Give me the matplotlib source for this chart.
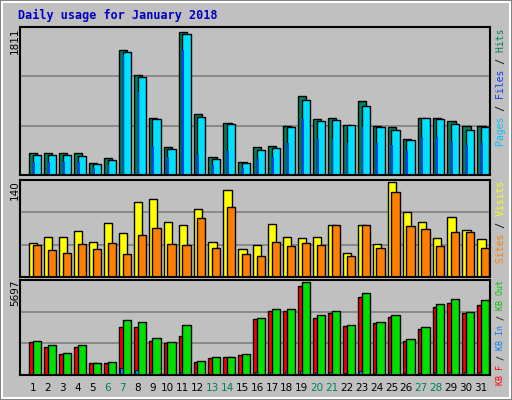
import matplotlib.pyplot as plt
from matplotlib.patches import Rectangle

days = list(range(1, 32))
weekend = [6, 7, 13, 14, 20, 21, 27, 28]

hits = [269, 269, 269, 269, 147, 208, 1554, 1248, 710, 355, 1787, 759, 220, 649, 159, 355,
        367, 612, 991, 698, 710, 624, 918, 612, 600, 453, 710, 710, 673, 612, 612]
files = [245, 245, 245, 233, 135, 184, 1530, 1224, 698, 330, 1762, 722, 196, 636, 147, 306,
         343, 600, 942, 673, 685, 624, 857, 600, 563, 441, 710, 698, 636, 563, 600]
pages = [160, 160, 160, 160, 90, 120, 1500, 1030, 355, 230, 1560, 245, 120, 300, 90, 200,
         230, 400, 700, 450, 450, 400, 600, 400, 380, 300, 480, 480, 430, 380, 400]
visits = [49, 58, 58, 66, 51, 78, 63, 108, 113, 79, 75, 98, 51, 126, 40, 46,
          76, 58, 56, 58, 75, 35, 75, 48, 137, 94, 79, 56, 87, 68, 55]
sites = [46, 39, 35, 48, 40, 49, 33, 61, 71, 48, 46, 85, 42, 101, 33, 30,
         51, 45, 49, 46, 75, 30, 75, 42, 123, 74, 69, 45, 65, 65, 42]
kb_f = [1919, 1619, 1199, 1619, 720, 720, 2759, 2759, 1979, 1859, 2279, 780, 960, 1019, 1139, 3238,
        3718, 3718, 5157, 3298, 3598, 2819, 4498, 2998, 3358, 1979, 2639, 3958, 4198, 3598, 4078]
kb_out = [1979, 1739, 1259, 1739, 720, 780, 3178, 3058, 2159, 1919, 2879, 840, 1019, 1019, 1199, 3298,
          3838, 3838, 5397, 3478, 3718, 2879, 4738, 3058, 3478, 2099, 2759, 4138, 4378, 3658, 4318]
kb_in = [80, 70, 50, 70, 30, 30, 400, 300, 150, 80, 200, 30, 40, 40, 50, 150,
         180, 180, 250, 160, 170, 130, 220, 140, 160, 90, 120, 190, 200, 170, 200]

W, H = 512, 400
fig = plt.figure(figsize=(W / 100, H / 100), dpi=100, facecolor='#c0c0c0')

# bevel frame
fig.patches.append(Rectangle((0, 0), 1, 1, transform=fig.transFigure, fill=False,
                             edgecolor='#808080', lw=3))
fig.patches.append(Rectangle((2 / W, 2 / H), 1 - 4 / W, 1 - 4 / H, transform=fig.transFigure,
                             fill=False, edgecolor='white', lw=1.5))

def make_ax(top, bottom, ymax):
    ax = fig.add_axes([20 / W, (H - bottom) / H, 470 / W, (bottom - top) / H])
    ax.set_facecolor('#c0c0c0')
    ax.set_xlim(0.13, 31.6)
    ax.set_ylim(0, ymax * 1.02)
    for f in (1 / 3, 2 / 3):
        ax.axhline(ymax * f * 1.02, color='#808080', lw=1.2, zorder=0)
    ax.set_xticks([])
    ax.set_yticks([])
    for s in ax.spines.values():
        s.set_linewidth(1.5)
    return ax

mono = 'DejaVu Sans Mono'

def side_legend(top, parts, size):
    # same-length strings, each showing only its own part, anchored at the end
    full = ''.join(t for t, c in parts)
    pos = 0
    for txt, col in parts:
        s = ' ' * pos + txt + ' ' * (len(full) - pos - len(txt))
        s = s.replace(' ', '\u2007') if False else s
        fig.text(496 / W, 1 - top / H, s, rotation=90, rotation_mode='anchor',
                 ha='right', va='top', color=col, family=mono, fontsize=size)
        pos += len(txt)

# top panel
ax1 = make_ax(27, 175, 1811)
ax1.bar([d - 0.25 for d in days], hits, width=0.55, align='edge', color='#00805c', edgecolor='black', lw=1)
ax1.bar([d + 0.0 for d in days], files, width=0.55, align='edge', color='#00e0ff', edgecolor='black', lw=1)
ax1.bar([d + 0.0 for d in days], pages, width=0.12, align='edge', color='#0040ff', lw=0)
fig.text(10 / W, 1 - 27 / H, '1811', rotation=90, va='top', fontsize=7.5)
side_legend(29, [('Pages', '#00c0ff'), (' / ', 'black'), ('Files', '#0040ff'),
                 (' / ', 'black'), ('Hits', '#00805c')], 7)

# middle panel
ax2 = make_ax(180, 277, 137)
ax2.bar([d - 0.25 for d in days], visits, width=0.55, align='edge', color='#ffff00', edgecolor='black', lw=1)
ax2.bar([d + 0.0 for d in days], sites, width=0.55, align='edge', color='#ff8000', edgecolor='black', lw=1)
fig.text(10 / W, 1 - 180 / H, '140', rotation=90, va='top', fontsize=7.5)
side_legend(181, [('Sites', '#ff8000'), (' / ', 'black'), ('Visits', '#ffff00')], 7)

# bottom panel
ax3 = make_ax(280, 375, 5397)
ax3.bar([d - 0.25 for d in days], kb_f, width=0.55, align='edge', color='#ff0000', edgecolor='black', lw=1)
ax3.bar([d + 0.0 for d in days], kb_out, width=0.55, align='edge', color='#00e000', edgecolor='black', lw=1)
ax3.bar([d - 0.15 for d in days], kb_in, width=0.15, align='edge', color='#0080ff', edgecolor='black', lw=0.5)
fig.text(10 / W, 1 - 280 / H, '5697', rotation=90, va='top', fontsize=7.5)
side_legend(280, [('KB F', '#ff0000'), (' / ', 'black'), ('KB In', '#0080ff'),
                  (' / ', 'black'), ('KB Out', '#00c000')], 6)

ax3.set_xticks(days)
ax3.set_xticklabels([str(d) for d in days], fontsize=7.5)
ax3.tick_params(axis='x', length=0, pad=6)
for lbl, d in zip(ax3.get_xticklabels(), days):
    if d in weekend:
        lbl.set_color('#00805c')

fig.text(18 / W, 1 - 15 / H, 'Daily usage for January 2018', color='#0000c0',
         family=mono, fontweight='bold', fontsize=8.5, va='center')

fig.savefig('out.png', dpi=100, facecolor=fig.get_facecolor())
